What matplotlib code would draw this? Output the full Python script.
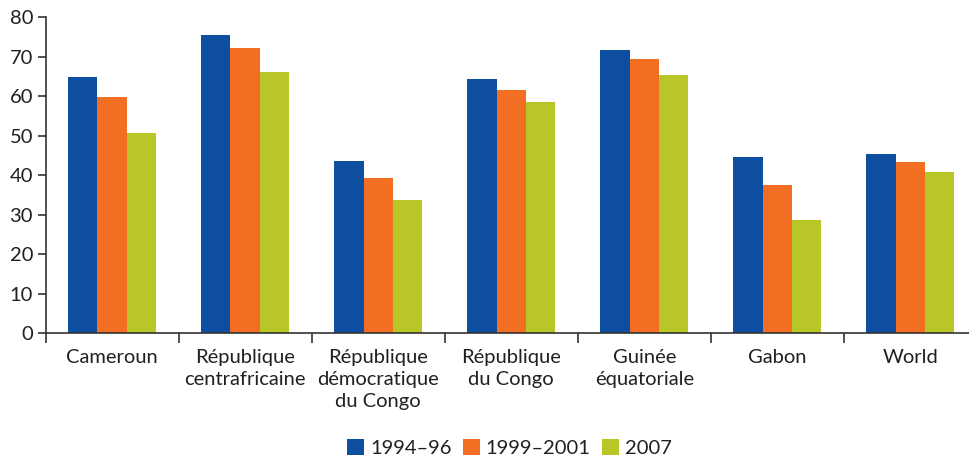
import matplotlib
matplotlib.use('Agg')
import matplotlib.pyplot as plt
import numpy as np

plt.rcParams['font.family'] = ['Lato', 'DejaVu Sans']

# données
categories = ['Cameroun', 'République\ncentrafricaine', 'République\ndémocratique\ndu Congo',
              'République\ndu Congo', 'Guinée\néquatoriale', 'Gabon', 'World']
periods = ['1994–96', '1999–2001', '2007']
v_1994 = [64.9, 75.5, 43.6, 64.4, 71.7, 44.6, 45.4]
v_1999 = [59.8, 72.2, 39.3, 61.6, 69.4, 37.5, 43.4]
v_2007 = [50.7, 66.2, 33.8, 58.6, 65.4, 28.7, 40.8]
colors = ['#0e4ea0', '#f26e22', '#b8c727']

txt = '#231f20'
fig = plt.figure(figsize=(9.70, 4.58), dpi=100)
ax = fig.add_axes([0.047, 0.272, 0.96, 0.69])

x = np.arange(len(categories))
w = 0.22
for i, (vals, lab) in enumerate(zip([v_1994, v_1999, v_2007], periods)):
    ax.bar(x + (i - 1) * w, vals, w, color=colors[i], label=lab, linewidth=0)

ax.set_xlim(-0.5, len(categories) - 0.5)
ax.set_ylim(0, 80)
ax.set_yticks(range(0, 81, 10))
ax.set_xticks(x)
ax.set_xticklabels(categories, fontsize=14.5, color=txt, linespacing=1.38)
ax.set_xticks(np.arange(-0.5, len(categories), 1), minor=True)
ax.tick_params(axis='x', which='major', length=0, pad=11)
ax.tick_params(axis='x', which='minor', length=7, width=1.2, color='#333333', direction='out')
ax.tick_params(axis='y', length=6, width=1.2, color='#333333', labelsize=14.5, labelcolor=txt, pad=3)
for s in ['top', 'right']:
    ax.spines[s].set_visible(False)
for s in ['left', 'bottom']:
    ax.spines[s].set_color('#333333')
    ax.spines[s].set_linewidth(1.2)

leg = fig.legend(loc='center', bbox_to_anchor=(0.525, 0.022), ncol=3, frameon=False,
                 fontsize=14.5, handlelength=0.85, handleheight=0.85, handletextpad=0.3,
                 columnspacing=0.55)
for t in leg.get_texts():
    t.set_color(txt)

fig.savefig('out.png', dpi=100)
